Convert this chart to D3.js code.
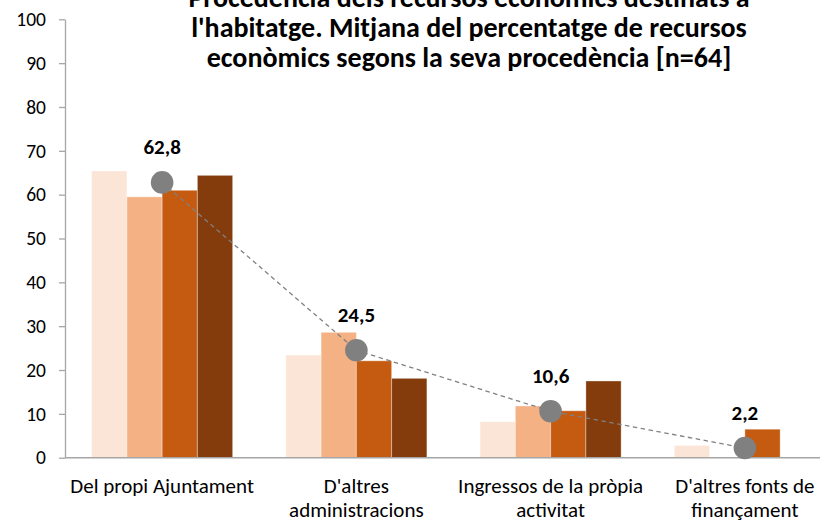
<!DOCTYPE html>
<html>
<head>
<meta charset="utf-8">
<script src="https://cdn.jsdelivr.net/npm/d3@7"></script>
<style>
  html, body { margin: 0; padding: 0; background: #fff; }
  svg { display: block; }
  text { font-family: Carlito, Calibri, Lato, sans-serif; }
</style>
</head>
<body>
<svg id="chart" width="820" height="521"></svg>
<script>
// ---- data ----
const titleLines = [
  "Procedència dels recursos econòmics destinats a",
  "l'habitatge. Mitjana del percentatge de recursos",
  "econòmics segons la seva procedència [n=64]"
];
const categories = [
  "Del propi Ajuntament",
  "D'altres administracions",
  "Ingressos de la pròpia activitat",
  "D'altres fonts de finançament"
];
const categoryLabelLines = [
  ["Del propi Ajuntament"],
  ["D'altres", "administracions"],
  ["Ingressos de la pròpia", "activitat"],
  ["D'altres fonts de", "finançament"]
];
const seriesNames = ["Sèrie 1", "Sèrie 2", "Sèrie 3", "Sèrie 4"];
const series1 = [65.4, 23.4, 8.2, 2.8];
const series2 = [59.5, 28.6, 11.8, 0];
const series3 = [61.0, 22.1, 10.7, 6.5];
const series4 = [64.4, 18.1, 17.5, 0];
const meanValues = [62.8, 24.5, 10.6, 2.2];
const meanLabels = ["62,8", "24,5", "10,6", "2,2"];
const yTicks = [0, 10, 20, 30, 40, 50, 60, 70, 80, 90, 100];
const seriesColors = ["#FBE5D6", "#F4B183", "#C55A11", "#843C0C"];

const seriesValues = [series1, series2, series3, series4];

// ---- layout ----
const svg = d3.select("#chart");
const plotLeft = 65, plotTop = 19.3, plotBottom = 457.7;
const step = 194.25;

const y = d3.scaleLinear().domain([0, 100]).range([plotBottom, plotTop]);
const x0 = d3.scaleBand()
  .domain(categories)
  .range([plotLeft, plotLeft + step * categories.length])
  .paddingInner(0.274)
  .paddingOuter(0.137);
const x1 = d3.scaleBand()
  .domain(seriesNames)
  .range([0, x0.bandwidth()])
  .padding(0);

// bars
const groups = svg.append("g").selectAll("g")
  .data(categories)
  .join("g")
  .attr("transform", d => `translate(${x0(d)},0)`);

groups.selectAll("rect")
  .data((c, i) => seriesNames.map((s, j) => ({ s, j, v: seriesValues[j][i] })))
  .join("rect")
  .filter(d => d.v > 0)
  .attr("x", d => x1(d.s))
  .attr("width", x1.bandwidth())
  .attr("y", d => y(d.v))
  .attr("height", d => y(0) - y(d.v))
  .attr("fill", d => seriesColors[d.j])
  .attr("stroke", "#ffffff")
  .attr("stroke-opacity", 0.35)
  .attr("stroke-width", 1);

// y axis
const yAxis = d3.axisLeft(y).tickValues(yTicks).tickSize(6).tickPadding(13).tickSizeOuter(0);
const gy = svg.append("g").attr("transform", `translate(${plotLeft},0)`).call(yAxis);
gy.select(".domain").attr("stroke", "#a6a6a6").attr("stroke-width", 1.3);
gy.selectAll(".tick line").attr("stroke", "#a6a6a6").attr("stroke-width", 1.3);
gy.selectAll(".tick text")
  .attr("font-family", "Carlito, Calibri, Lato, sans-serif")
  .attr("font-size", 19.5)
  .attr("fill", "#000");

// x axis line
const xAxis = d3.axisBottom(x0).tickSize(0).tickFormat("");
const gx = svg.append("g").attr("transform", `translate(0,${plotBottom})`).call(xAxis);
gx.select(".domain").attr("d", `M${plotLeft},0H820`).attr("stroke", "#a6a6a6").attr("stroke-width", 1.5);

// category labels
categories.forEach((c, i) => {
  const t = svg.append("text")
    .attr("x", x0(c) + x0.bandwidth() / 2)
    .attr("y", 493)
    .attr("text-anchor", "middle")
    .attr("font-size", 21)
    .attr("fill", "#000");
  categoryLabelLines[i].forEach((line, k) => {
    t.append("tspan")
      .attr("x", x0(c) + x0.bandwidth() / 2)
      .attr("dy", k === 0 ? 0 : 23.5)
      .text(line);
  });
});

// mean line
const cx = c => x0(c) + x0.bandwidth() / 2;
const line = d3.line().x((d, i) => cx(categories[i])).y(d => y(d));
svg.append("path")
  .datum(meanValues)
  .attr("d", line)
  .attr("fill", "none")
  .attr("stroke", "#808080")
  .attr("stroke-width", 1.3)
  .attr("stroke-dasharray", "4.5 3.5");

svg.append("g").selectAll("circle")
  .data(meanValues)
  .join("circle")
  .attr("cx", (d, i) => cx(categories[i]))
  .attr("cy", d => y(d))
  .attr("r", 11.3)
  .attr("fill", "#808080");

svg.append("g").selectAll("text")
  .data(meanValues)
  .join("text")
  .attr("x", (d, i) => cx(categories[i]))
  .attr("y", d => y(d) - 28)
  .attr("text-anchor", "middle")
  .attr("font-size", 21)
  .attr("font-weight", "bold")
  .attr("fill", "#000")
  .text((d, i) => meanLabels[i]);

// title
svg.append("g").selectAll("text")
  .data(titleLines)
  .join("text")
  .attr("x", 469)
  .attr("y", (d, i) => 6.8 + i * 30)
  .attr("text-anchor", "middle")
  .attr("font-size", 28)
  .attr("font-weight", "bold")
  .attr("fill", "#000")
  .text(d => d);
</script>
</body>
</html>
